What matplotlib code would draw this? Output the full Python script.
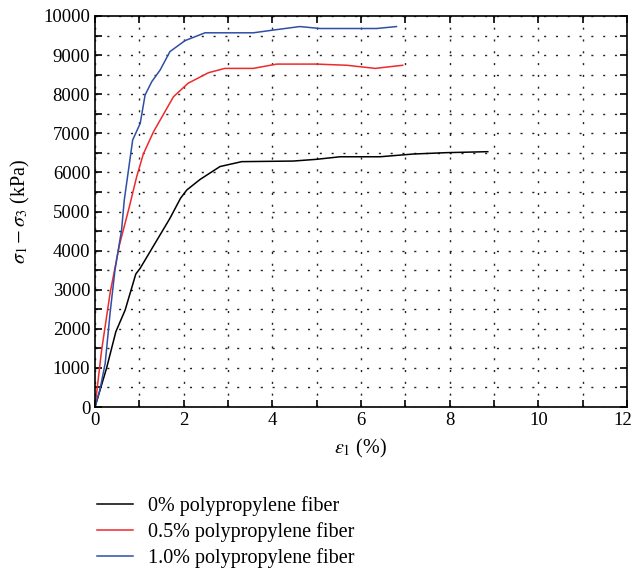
import matplotlib
matplotlib.use("Agg")
import matplotlib.pyplot as plt
from matplotlib.ticker import MultipleLocator

plt.rcParams['font.family'] = ['Liberation Serif', 'DejaVu Serif']
plt.rcParams['mathtext.fontset'] = 'stix'

# strain (%) and deviator stress (kPa)
eps_0 = [0, 0.26, 0.47, 0.68, 0.92, 1.02, 1.69, 1.93, 2.07, 2.37, 2.82, 3.31,
         4.47, 5.0, 5.53, 6.43, 7.18, 7.93, 8.86]
q_0 = [0, 990, 1925, 2480, 3400, 3550, 4825, 5340, 5550, 5820, 6150, 6275,
       6290, 6335, 6400, 6400, 6470, 6505, 6530]

eps_05 = [0, 0.15, 0.34, 0.55, 0.77, 0.94, 1.09, 1.32, 1.77, 2.1, 2.56, 2.93,
          3.57, 4.1, 5.0, 5.68, 6.32, 6.94]
q_05 = [0, 1460, 2910, 4140, 5100, 5890, 6470, 7040, 7935, 8280, 8550, 8660,
        8660, 8770, 8770, 8740, 8660, 8740]

eps_10 = [0, 0.11, 0.23, 0.34, 0.45, 0.6, 0.66, 0.85, 1.02, 1.13, 1.28, 1.47,
          1.69, 2.03, 2.48, 3.57, 4.02, 4.62, 5.08, 6.35, 6.8]
q_10 = [0, 435, 1120, 2400, 3500, 4530, 5290, 6830, 7255, 7980, 8320, 8620,
        9090, 9370, 9570, 9570, 9640, 9730, 9680, 9680, 9730]

x_ticks = [0, 2, 4, 6, 8, 10, 12]

labels = ['0% polypropylene fiber', '0.5% polypropylene fiber',
          '1.0% polypropylene fiber']
colors = ['#000000', '#ee2a2a', '#2f4fa5']

fig = plt.figure(figsize=(6.33, 5.69), dpi=100)
ax = fig.add_axes([95/633, 1-407/569, 532/633, 391/569])

lines = []
for x, y, c, lab in zip([eps_0, eps_05, eps_10], [q_0, q_05, q_10], colors, labels):
    ln, = ax.plot(x, y, color=c, lw=1.1, label=lab)
    lines.append(ln)

ax.set_xlim(0, 12)
ax.set_ylim(0, 10000)
# last x label is drawn separately so it can sit a bit left of the edge
ax.set_xticks(x_ticks, labels=[str(t) for t in x_ticks[:-1]] + [''])
ax.annotate(str(x_ticks[-1]), xy=(x_ticks[-1], 0), xycoords='data',
            xytext=(-3, -3.5), textcoords='offset points',
            ha='center', va='top', fontsize=13.5)
ax.xaxis.set_minor_locator(MultipleLocator(1))
ax.yaxis.set_major_locator(MultipleLocator(1000))
ax.yaxis.set_minor_locator(MultipleLocator(500))
ax.grid(True, which='both', color='#222222', linestyle=(0, (1.5, 7)),
        linewidth=1.0)
ax.tick_params(which='both', direction='in', top=True, right=True,
               length=5, width=1.2, labelsize=13.5)
for s in ax.spines.values():
    s.set_linewidth(1.2)

ax.set_xlabel(r'$\varepsilon_1$ (%)', fontsize=14.5, labelpad=6)
ax.set_ylabel(r'$\sigma_1 - \sigma_3$ (kPa)', fontsize=14.5, labelpad=8)

fig.legend(handles=lines, loc='upper left', bbox_to_anchor=(79/633, 1-478/569),
           frameon=False, fontsize=14.5, handlelength=1.8, labelspacing=0.3,
           handletextpad=0.75)

fig.savefig('out.png', dpi=100)
